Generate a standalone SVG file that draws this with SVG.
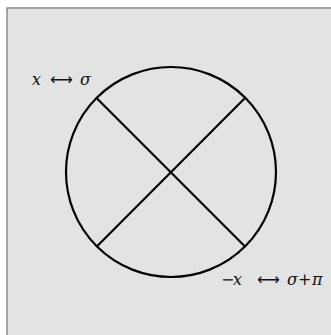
<svg xmlns="http://www.w3.org/2000/svg" width="331" height="335" viewBox="0 0 331 335">
<style>
.bg{fill:#e2e3e3;stroke:#8a8a8a;stroke-width:1.5}
.c{fill:none;stroke:#000;stroke-width:2.2}
.t{font-family:"DejaVu Serif","Liberation Serif",serif;font-size:16px;fill:#111}
.i{font-style:italic}
.a{font-family:"DejaVu Sans",sans-serif;font-size:16px}
</style>
<rect class="bg" x="7" y="8" width="330" height="335"/>
<g id="circle"><circle class="c" cx="171" cy="172" r="105"/></g>
<g id="connectors">
<line class="c" x1="97" y1="98.5" x2="244.5" y2="246"/>
<line class="c" x1="97.3" y1="246" x2="244.5" y2="98.5"/>
</g>
<g id="label1"><text class="t" y="85"><tspan class="i" x="32">x</tspan><tspan class="a" x="50">⟷</tspan><tspan class="i" x="80">σ</tspan></text></g>
<g id="label2"><text class="t" y="285"><tspan x="221">−</tspan><tspan class="i" x="233">x</tspan><tspan class="a" x="257">⟷</tspan><tspan class="i" x="287">σ</tspan><tspan x="298">+</tspan><tspan class="i" x="312">π</tspan></text></g>
</svg>
